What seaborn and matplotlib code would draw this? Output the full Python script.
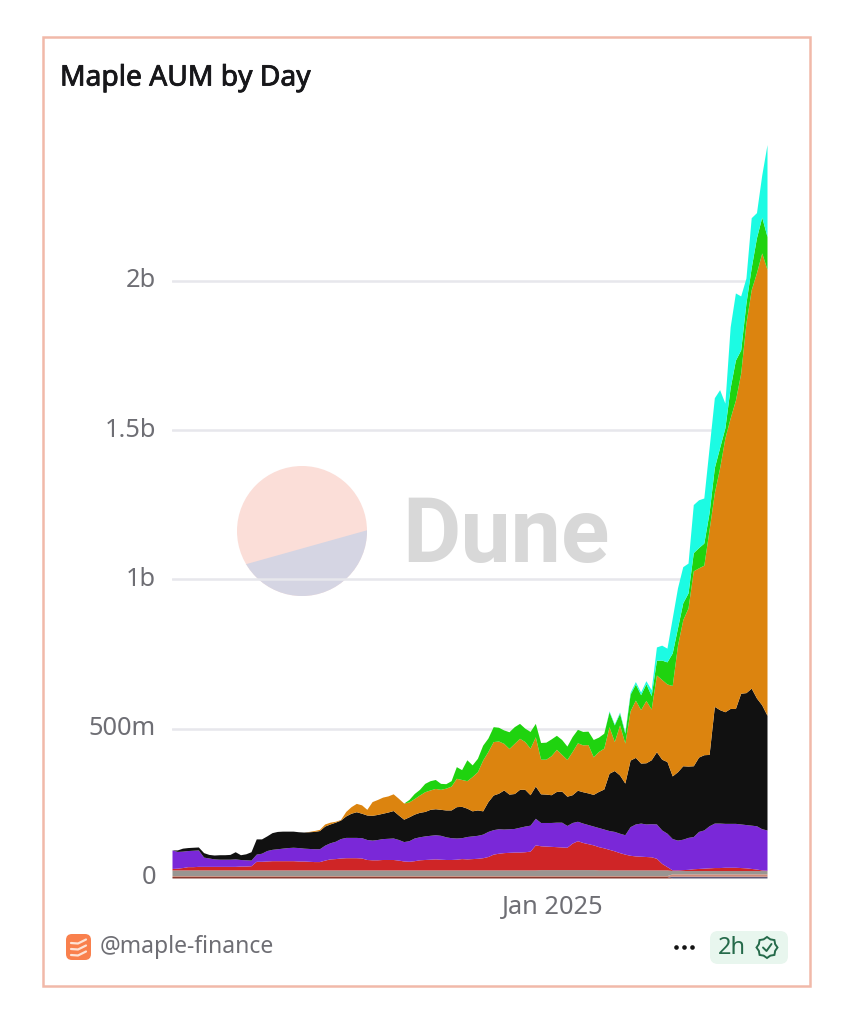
import numpy as np
import pandas as pd
import matplotlib
matplotlib.use("Agg")
import matplotlib.pyplot as plt
import matplotlib.dates as mdates
import matplotlib.patheffects as pe
from matplotlib.patches import Circle, FancyBboxPatch, Polygon, Rectangle
from matplotlib.transforms import ScaledTranslation
import seaborn as sns

# values in millions, one sample every 4 days
START_DATE = "2024-03-19"
N_DAYS = 114

dark_red = [5] * 95 + [0] * 19
slate = [0] * 95 + [6] * 19
salmon = [3] * 95 + [8] * 19
gray = [19] * 70 + [20] * 11 + [19] * 14 + [11] * 19
red = [5, 6, 8, 11, 11, 12, 12, 12, 12, 12,
       12, 12, 12, 13, 13, 14, 29, 29, 30, 31,
       31, 31, 31, 31, 30, 30, 29, 28, 28, 33,
       37, 38, 40, 41, 41, 41, 40, 35, 34, 34,
       35, 35, 35, 33, 30, 29, 31, 34, 35, 36,
       37, 36, 35, 35, 36, 38, 37, 38, 39, 41,
       45, 53, 56, 58, 59, 60, 60, 61, 63, 84,
       80, 79, 78, 77, 76, 75, 89, 97, 91, 87,
       83, 78, 74, 69, 64, 58, 53, 49, 47, 46,
       45, 44, 39, 22, 11, 2, 2, 3, 4, 6,
       7, 8, 9, 10, 10, 11, 11, 11, 10, 9,
       7, 5, 2, 1]
purple = [62, 56, 55, 54, 55, 55, 31, 28, 25, 24,
          24, 24, 25, 22, 21, 19, 24, 27, 35, 38,
          40, 42, 44, 45, 45, 43, 43, 43, 43, 50,
          54, 58, 65, 68, 68, 68, 68, 67, 66, 68,
          70, 71, 72, 69, 65, 69, 76, 77, 79, 80,
          81, 80, 76, 73, 71, 70, 75, 76, 77, 79,
          84, 82, 82, 79, 79, 79, 83, 86, 87, 89,
          78, 79, 80, 82, 83, 73, 69, 65, 65, 64,
          63, 64, 63, 63, 65, 65, 65, 96, 107, 111,
          109, 111, 115, 112, 112, 105, 100, 102, 107, 108,
          124, 128, 141, 149, 149, 147, 147, 147, 146, 145,
          145, 145, 138, 135]
black = [0, 5, 10, 10, 10, 10, 15, 12, 13, 15,
         15, 16, 24, 16, 20, 28, 51, 48, 49, 56,
         58, 57, 55, 54, 53, 54, 56, 58, 61, 64,
         63, 64, 62, 72, 81, 86, 82, 82, 83, 84,
         85, 88, 92, 82, 75, 80, 80, 82, 82, 87,
         87, 87, 90, 93, 105, 105, 95, 84, 85, 78,
         100, 116, 119, 131, 116, 117, 127, 123, 102, 108,
         96, 95, 93, 103, 104, 98, 93, 104, 105, 106,
         106, 121, 134, 192, 204, 195, 173, 223, 223, 201,
         205, 214, 242, 237, 240, 210, 229, 246, 239, 237,
         249, 252, 239, 391, 380, 374, 385, 385, 438, 442,
         459, 428, 415, 384]
orange = [0] * 26 + [1, 3, 4, 7,
          6, 3, 2, 15, 22, 28, 28, 19, 46, 50,
          54, 54, 56, 56, 54, 50, 52, 58, 66, 65,
          68, 67, 73, 80, 95, 90, 92, 115, 128, 170,
          168, 179, 175, 156, 153, 168, 171, 160, 156, 165,
          116, 117, 131, 141, 123, 123, 145, 159, 157, 162,
          126, 134, 137, 156, 97, 168, 134, 165, 192, 179,
          209, 170, 257, 267, 260, 303, 424, 489, 530, 653,
          634, 635, 753, 716, 810, 917, 973, 1033, 1072, 1238,
          1335, 1425, 1514, 1494]
green = [0] * 45 + [8, 17, 19, 28, 31,
         30, 20, 15, 18, 39, 33, 70, 39, 45, 50,
         45, 50, 46, 45, 56, 56, 50, 45, 56, 45,
         56, 57, 56, 47, 50, 45, 50, 45, 45, 45,
         58, 48, 50, 50, 56, 39, 33, 56, 54, 50,
         56, 45, 50, 65, 74, 109, 58, 57, 50, 61,
         68, 74, 57, 84, 68, 34, 101, 134, 78, 67,
         74, 117, 120, 110]
cyan = [0] * 83 + [3, 3, 4, 5, 6, 8, 9,
        10, 20, 44, 50, 46, 117, 134, 121, 100, 161,
        160, 151, 217, 234, 194, 83, 204, 225, 181, 84,
        167, 84, 141, 308]

tick_values = [0, 500, 1000, 1500, 2000]
tick_labels = ["0", "500m", "1b", "1.5b", "2b"]

series = {"dark_red": dark_red, "slate": slate, "salmon": salmon, "gray": gray,
          "red": red, "purple": purple, "black": black, "orange": orange,
          "green": green, "cyan": cyan}
colors = {"dark_red": "#8a3b30", "slate": "#5d5876", "salmon": "#d08a78",
          "gray": "#999591", "red": "#cf2526", "purple": "#7a28d8",
          "black": "#111111", "orange": "#dc840f", "green": "#1fd30f",
          "cyan": "#1cfbe3"}

dates = pd.date_range(START_DATE, periods=N_DAYS, freq="4D")
days = mdates.date2num(dates)
df = pd.DataFrame({"day": days, **series}).melt("day", var_name="series", value_name="aum")

sns.set_theme(style="white")
plt.rcParams["font.family"] = ["Noto Sans", "DejaVu Sans"]

W, H = 854, 1024
fig = plt.figure(figsize=(W / 100, H / 100), dpi=100)

# page-level overlay in pixel coordinates, for the card and footer
bg = fig.add_axes([0, 0, 1, 1], zorder=0)
bg.set_xlim(0, W)
bg.set_ylim(H, 0)
bg.axis("off")

ax = fig.add_axes([172 / W, (H - 878) / H, 595 / W, 748 / H], zorder=1)
ax.patch.set_alpha(0)

edges = list(np.append(days - 2, days[-1] + 2))
# first hue level ends up on top of the stack
sns.histplot(data=df, x="day", weights="aum", hue="series",
             hue_order=list(series)[::-1], palette=colors, bins=edges,
             multiple="stack", element="poly", alpha=1, linewidth=0,
             legend=False, ax=ax)

ax.set_xlim(days[0], days[-1])
ax.set_ylim(0, 748 * 3.35)
ax.set_yticks(tick_values)
ax.set_yticklabels(tick_labels)
ax.set_xticks([mdates.date2num(pd.Timestamp("2025-01-02"))])
ax.set_xticklabels(["Jan 2025"])
ax.set_xlabel("")
ax.set_ylabel("")
ax.tick_params(axis="both", length=0, labelcolor="#6e6e74", labelsize=18.3)
ax.tick_params(axis="y", pad=11.5)
ax.tick_params(axis="x", pad=12)
ax.set_axisbelow(True)
ax.grid(axis="y", color="#e7e7ec", linewidth=1.8)
ax.grid(axis="x", visible=False)
sns.despine(ax=ax, left=True, bottom=True)

# y labels sit a little above their grid lines
for label in ax.get_yticklabels():
    label.set_transform(label.get_transform() + ScaledTranslation(0, 3 / 100, fig.dpi_scale_trans))

# card border
bg.add_patch(Rectangle((43.5, 37), 767, 949, fill=False, edgecolor="#f1b9a9", linewidth=1.8))
bg.text(60, 78, "Maple AUM by Day", fontsize=20.3, color="#17171a", va="center", ha="left",
        path_effects=[pe.withStroke(linewidth=0.6, foreground="#17171a")])

# watermark
pie = Circle((302, 531), 65, facecolor="#fbded8", edgecolor="none")
bg.add_patch(pie)
lower = Polygon([(236, 567), (368, 530), (368, 600), (236, 600)],
                facecolor="#d5d5e3", edgecolor="none")
bg.add_patch(lower)
lower.set_clip_path(pie)
bg.text(402, 537, "Dune", fontsize=64.5, fontweight="bold", color="#d8d8d8",
        va="center", ha="left", family="Roboto")

# footer
bg.add_patch(FancyBboxPatch((69, 937), 19, 20, boxstyle="round,pad=3,rounding_size=6",
                            facecolor="#f9804d", edgecolor="none"))
for y0 in (941, 947, 953):
    bg.plot([71, 78, 86], [y0 + 2, y0 + 2.5, y0 - 1.5], color="#fde3d6",
            linewidth=1.6, solid_capstyle="round")
bg.text(100, 947, "@maple-finance", fontsize=16.5, color="#6e6e74", va="center", ha="left")
bg.scatter([676, 684, 692], [947, 947, 947], s=11, color="#141414", linewidths=0)
bg.add_patch(FancyBboxPatch((716, 937), 66, 21, boxstyle="round,pad=6,rounding_size=8",
                            facecolor="#e8f6ee", edgecolor="none"))
bg.text(718, 947.5, "2h", fontsize=17, color="#256a4a", va="center", ha="left")

# verified badge
angles = np.linspace(0, 2 * np.pi, 17)[:-1]
radii = np.where(np.arange(16) % 2 == 0, 10.5, 8.8)
bg.add_patch(Polygon(np.column_stack([767 + radii * np.cos(angles), 947.5 + radii * np.sin(angles)]),
                     fill=False, edgecolor="#256a4a", linewidth=1.4))
bg.plot([763, 766.5, 771.5], [947.5, 951, 944], color="#256a4a", linewidth=1.4)

fig.savefig("out.png", dpi=100, facecolor="white")
